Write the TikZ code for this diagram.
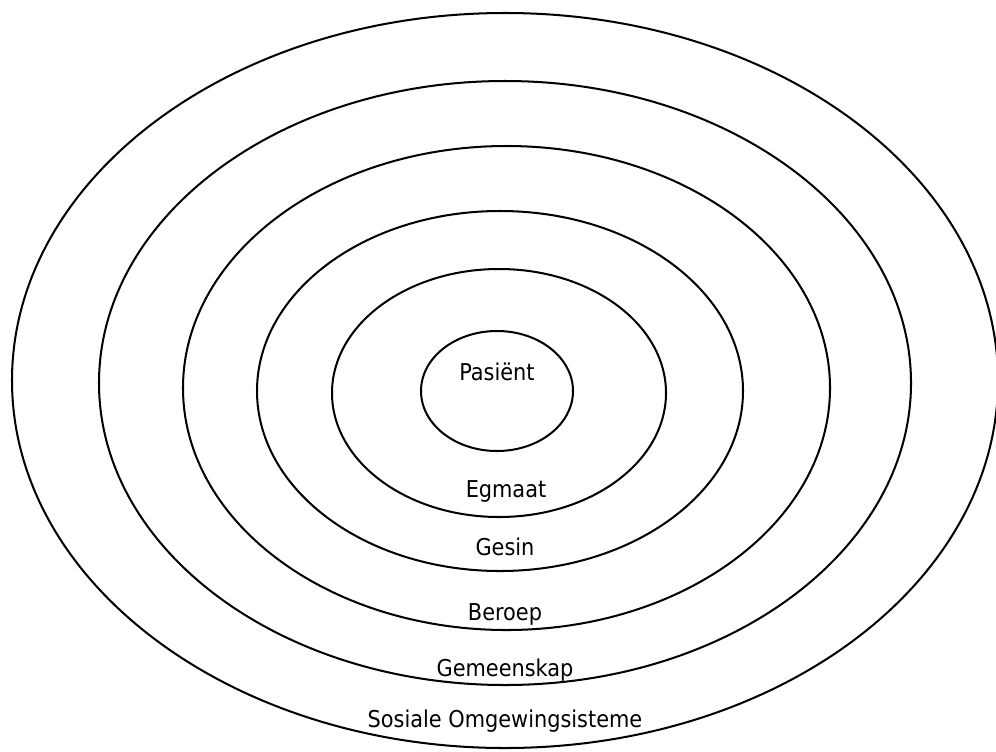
\documentclass[tikz,border=0pt]{standalone}
\usepackage{fontspec}
\newfontfamily\ringfont{DejaVu Sans Condensed}
\usepackage{tikz}

\tikzset{
  ring/.style={draw,line width=1.15pt},
  ringlabel/.style={anchor=base,inner sep=0pt,font=\ringfont\fontsize{13.2}{15}\selectfont}
}

\begin{document}
\begin{tikzpicture}[x=0.02cm,y=-0.02cm]
  \useasboundingbox (0,0) rectangle (996,751);
  \foreach \cx/\cy/\rx/\ry in {505/380.5/493/367.5, 505/383/406/302, 506.5/388/323.5/242,
                               500/391/243/180, 499/393/167/124, 497/391/76/60} {
    \path[ring] (\cx,\cy) ellipse [x radius=\rx, y radius=\ry];
  };
  \node[ringlabel] (pasient)    at (497,380) {Pasiënt};
  \node[ringlabel] (egmaat)     at (506,497) {Egmaat};
  \node[ringlabel] (gesin)      at (505,555) {Gesin};
  \node[ringlabel] (beroep)     at (505,620) {Beroep};
  \node[ringlabel] (gemeenskap) at (505,676) {Gemeenskap};
  \node[ringlabel] (sosiaal)    at (505,727) {Sosiale Omgewingsisteme};
\end{tikzpicture}
\end{document}
